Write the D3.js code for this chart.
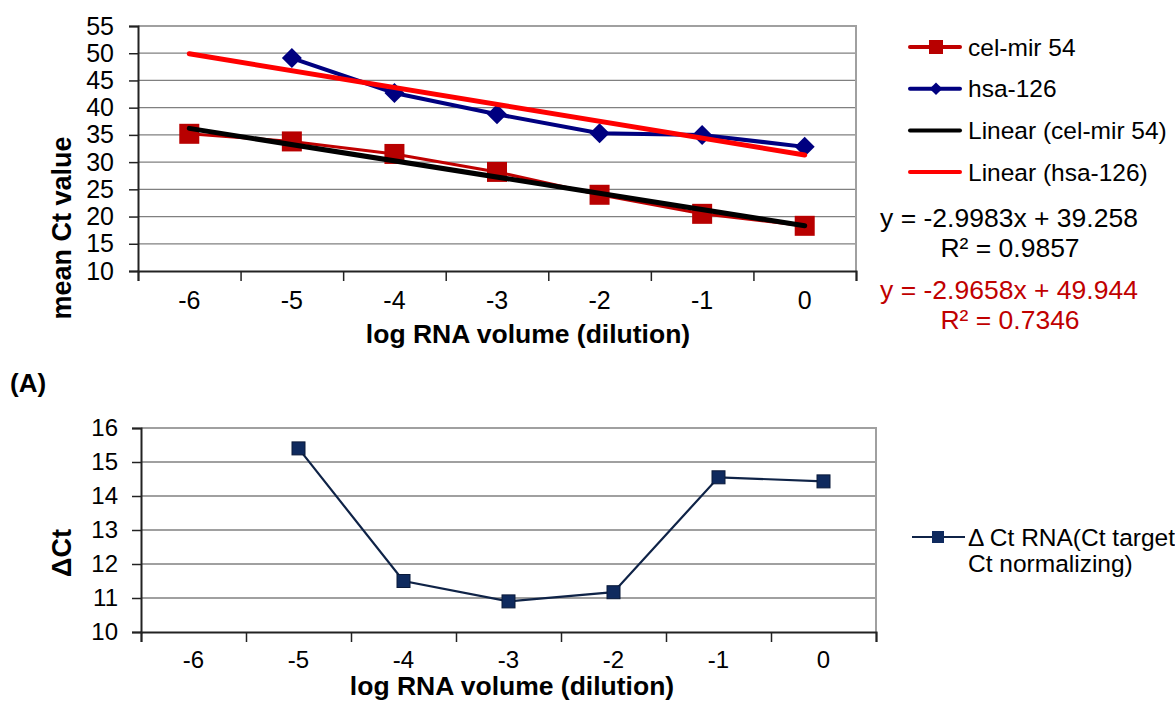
<!DOCTYPE html>
<html>
<head>
<meta charset="utf-8">
<script src="https://cdn.jsdelivr.net/npm/d3@7"></script>
<style>
  body { margin: 0; background: #fff; }
  svg text { font-family: "Liberation Sans", Arial, sans-serif; }
</style>
</head>
<body>
<div id="chart"></div>
<script>
var svgW = 1175;
var svgH = 702;

// data
var dilutions = ["-6", "-5", "-4", "-3", "-2", "-1", "0"];
var celMir54 = [35.2, 33.8, 31.5, 28.2, 24.0, 20.5, 18.3];
var hsa126 = [null, 49.1, 42.7, 38.8, 35.3, 35.0, 32.8];
var deltaCt = [null, 15.4, 11.5, 10.9, 11.17, 14.55, 14.43];
var topTicks = [10, 15, 20, 25, 30, 35, 40, 45, 50, 55];
var bottomTicks = [10, 11, 12, 13, 14, 15, 16];

// trendline ends (at -6 and 0) as drawn, and their labels
var celTrend = [36.2, 18.3];
var hsaTrend = [49.9, 31.3];
var celEq = ["y = -2.9983x + 39.258", "R² = 0.9857"];
var hsaEq = ["y = -2.9658x + 49.944", "R² = 0.7346"];

var svg = d3.select("#chart")
    .append("svg")
    .attr("width", svgW)
    .attr("height", svgH);

function drawFrame(box, yDomain, yTicks, yTitle, yTitleY, fs) {
    var xBand = d3.scaleBand().domain(dilutions).range([box.left, box.right]).padding(0);
    var xEdge = d3.scaleLinear().domain([0, dilutions.length]).range([box.left, box.right]);
    var y = d3.scaleLinear().domain(yDomain).range([box.bottom, box.top]);

    // grid
    svg.append("g").selectAll("line")
        .data(yTicks.slice(1))
        .enter()
        .append("line")
        .attr("x1", box.left).attr("x2", box.right)
        .attr("y1", d => y(d)).attr("y2", d => y(d))
        .attr("stroke", "#808080")
        .attr("stroke-width", 1.3);

    // top/right border
    svg.append("path")
        .attr("d", `M${box.left},${box.top}H${box.right}V${box.bottom}`)
        .attr("fill", "none")
        .attr("stroke", "#a0a0a0")
        .attr("stroke-width", 2);

    // y axis
    var leftAxis = d3.axisLeft(y).tickValues(yTicks).tickSize(9)
        .tickPadding(box.yPad).tickFormat(d3.format("d"));
    var gy = svg.append("g")
        .attr("transform", `translate(${box.left},0)`)
        .call(leftAxis);
    gy.select(".domain").attr("stroke", "#222").attr("stroke-width", 2);
    gy.selectAll(".tick line").attr("stroke", "#222").attr("stroke-width", 1.5);
    gy.selectAll("text").attr("font-size", fs).attr("fill", "#000")
        .attr("font-family", "Liberation Sans, Arial, sans-serif");

    // x axis: tick marks between categories, labels at centres
    var edgeAxis = d3.axisBottom(xEdge).tickValues(d3.range(dilutions.length + 1))
        .tickSize(10).tickFormat("");
    var gx = svg.append("g")
        .attr("transform", `translate(0,${box.bottom})`)
        .call(edgeAxis);
    gx.select(".domain").attr("stroke", "#222").attr("stroke-width", 2);
    gx.selectAll(".tick line").attr("stroke", "#222").attr("stroke-width", 1.5);

    var labelAxis = d3.axisBottom(xBand).tickSize(0).tickPadding(box.labPad);
    var gl = svg.append("g")
        .attr("transform", `translate(0,${box.bottom})`)
        .call(labelAxis);
    gl.select(".domain").remove();
    gl.selectAll("text").attr("font-size", fs).attr("fill", "#000")
        .attr("font-family", "Liberation Sans, Arial, sans-serif");

    // axis titles
    svg.append("text")
        .attr("x", box.xTitleX).attr("y", box.xTitleY)
        .attr("text-anchor", "middle")
        .attr("font-size", 26.5).attr("font-weight", "bold")
        .text("log RNA volume (dilution)");
    svg.append("text")
        .attr("transform", `translate(71,${yTitleY}) rotate(-90)`)
        .attr("text-anchor", "middle")
        .attr("font-size", 27).attr("font-weight", "bold")
        .text(yTitle);

    return { x: d => xBand(d) + xBand.bandwidth() / 2, y: y };
}

// ---------- top chart ----------
var top1 = { left: 138, right: 856, top: 26, bottom: 271, labPad: 20, yPad: 15, xTitleX: 528, xTitleY: 343 };
var s1 = drawFrame(top1, [10, 55], topTicks, "mean Ct value", 228, 25);

var celPts = dilutions.map((d, i) => ({ k: d, v: celMir54[i] }));
var hsaPts = dilutions.map((d, i) => ({ k: d, v: hsa126[i] })).filter(p => p.v !== null);

var line1 = d3.line().x(p => s1.x(p.k)).y(p => s1.y(p.v));

svg.append("path").datum(celPts)
    .attr("d", line1).attr("fill", "none")
    .attr("stroke", "#c00000").attr("stroke-width", 3);
svg.append("g").selectAll("rect")
    .data(celPts).enter().append("rect")
    .attr("x", p => s1.x(p.k) - 10).attr("y", p => s1.y(p.v) - 10)
    .attr("width", 20).attr("height", 20)
    .attr("fill", "#b80000");

svg.append("path").datum(hsaPts)
    .attr("d", line1).attr("fill", "none")
    .attr("stroke", "#000080").attr("stroke-width", 4);
svg.append("g").selectAll("path")
    .data(hsaPts).enter().append("path")
    .attr("d", d3.symbol().type(d3.symbolSquare).size(200))
    .attr("transform", p => `translate(${s1.x(p.k)},${s1.y(p.v)}) rotate(45)`)
    .attr("fill", "#000080");

function trendPts(ends) {
    return [{ k: dilutions[0], v: ends[0] }, { k: dilutions[dilutions.length - 1], v: ends[1] }];
}
svg.append("path").datum(trendPts(celTrend))
    .attr("d", line1).attr("fill", "none")
    .attr("stroke", "#000").attr("stroke-width", 5).attr("stroke-linecap", "round");
svg.append("path").datum(trendPts(hsaTrend))
    .attr("d", line1).attr("fill", "none")
    .attr("stroke", "#ff0000").attr("stroke-width", 5).attr("stroke-linecap", "round");

// legend
var legItems = [
    { name: "cel-mir 54", color: "#c00000", mark: "square" },
    { name: "hsa-126", color: "#000080", mark: "diamond" },
    { name: "Linear (cel-mir 54)", color: "#000", mark: null },
    { name: "Linear (hsa-126)", color: "#ff0000", mark: null }
];
var leg = svg.append("g");
legItems.forEach((it, i) => {
    var ly = 47 + i * 41.7;
    leg.append("line")
        .attr("x1", 910).attr("x2", 960).attr("y1", ly).attr("y2", ly)
        .attr("stroke", it.color).attr("stroke-width", 4).attr("stroke-linecap", "round");
    if (it.mark === "square") {
        leg.append("rect").attr("x", 929).attr("y", ly - 7).attr("width", 14).attr("height", 14)
            .attr("fill", "#b80000");
    } else if (it.mark === "diamond") {
        leg.append("path")
            .attr("d", d3.symbol().type(d3.symbolSquare).size(80))
            .attr("transform", `translate(936,${ly}) rotate(45)`)
            .attr("fill", it.color);
    }
    leg.append("text")
        .attr("x", 968).attr("y", ly).attr("dy", "0.35em")
        .attr("font-size", 24.5)
        .text(it.name);
});

// equations
svg.append("text").attr("x", 1009).attr("y", 227).attr("text-anchor", "middle")
    .attr("font-size", 26.5).attr("fill", "#000").text(celEq[0]);
svg.append("text").attr("x", 1010).attr("y", 257).attr("text-anchor", "middle")
    .attr("font-size", 26.5).attr("fill", "#000").text(celEq[1]);
svg.append("text").attr("x", 1009).attr("y", 299).attr("text-anchor", "middle")
    .attr("font-size", 26.5).attr("fill", "#c00000").text(hsaEq[0]);
svg.append("text").attr("x", 1010).attr("y", 329).attr("text-anchor", "middle")
    .attr("font-size", 26.5).attr("fill", "#c00000").text(hsaEq[1]);

// ---------- panel label ----------
svg.append("text").attr("x", 10).attr("y", 392)
    .attr("font-size", 26).attr("font-weight", "bold")
    .attr("font-family", "Open Sans, sans-serif")
    .text("(A)");

// ---------- bottom chart ----------
var bot = { left: 141, right: 876, top: 428, bottom: 632, labPad: 19, yPad: 14, xTitleX: 512, xTitleY: 695 };
var s2 = drawFrame(bot, [10, 16], bottomTicks, "ΔCt", 553, 24);

var dPts = dilutions.map((d, i) => ({ k: d, v: deltaCt[i] })).filter(p => p.v !== null);
var line2 = d3.line().x(p => s2.x(p.k)).y(p => s2.y(p.v));
svg.append("path").datum(dPts)
    .attr("d", line2).attr("fill", "none")
    .attr("stroke", "#0f2347").attr("stroke-width", 2.2);
svg.append("g").selectAll("rect")
    .data(dPts).enter().append("rect")
    .attr("x", p => s2.x(p.k) - 6.5).attr("y", p => s2.y(p.v) - 6.5)
    .attr("width", 13).attr("height", 13)
    .attr("fill", "#0f2a5e").attr("stroke", "#0a1a3a").attr("stroke-width", 1);

// bottom legend (text runs off the right edge, as in the original)
svg.append("line").attr("x1", 912).attr("x2", 965).attr("y1", 537).attr("y2", 537)
    .attr("stroke", "#0f2347").attr("stroke-width", 2.2);
svg.append("rect").attr("x", 932).attr("y", 531).attr("width", 12).attr("height", 12)
    .attr("fill", "#0f2a5e");
svg.append("text").attr("x", 968).attr("y", 537).attr("dy", "0.35em")
    .attr("font-size", 24.5).text("Δ Ct RNA(Ct target-");
svg.append("text").attr("x", 968).attr("y", 563).attr("dy", "0.35em")
    .attr("font-size", 24.5).text("Ct normalizing)");
</script>
</body>
</html>
